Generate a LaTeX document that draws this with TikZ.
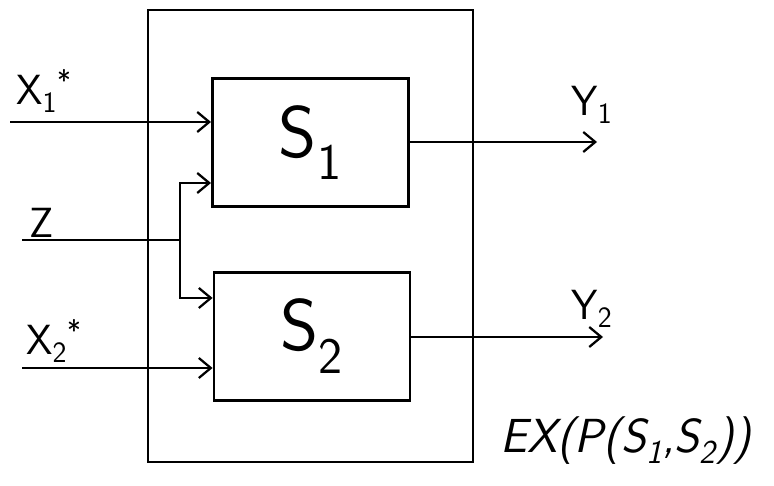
\documentclass[tikz,border=0pt]{standalone}
\usepackage{tikz}
\usetikzlibrary{positioning,arrows.meta}
\tikzset{
  outer/.style={draw, line width=1.4pt},
  sysbox/.style={draw, line width=2pt, minimum width=4.9cm, minimum height=3.2cm,
                 font=\sffamily\fontsize{52}{56}\selectfont},
  sig/.style={line width=1.8pt},
  flow/.style={sig, -{Straight Barb[length=3mm,width=5mm,line width=1.6pt]}},
  lbl/.style={font=\sffamily\fontsize{30}{32}\selectfont, inner sep=0pt},
}
\begin{document}
\begin{tikzpicture}
  \useasboundingbox (0,0) rectangle (19.35,12.125);
  % outer frame and the two systems
  \draw[outer] (3.7,0.575) rectangle (11.825,11.875);
  \node[sysbox] (s1) at (7.76,8.56) {S\textsubscript{1}};
  \node[sysbox] (s2) at (7.8,3.72) {S\textsubscript{2}};

  % input ends and the branch point of Z
  \coordinate (x1in) at (0.25,9.075);
  \coordinate (zin) at (0.55,6.125);
  \coordinate (zj) at (4.5,6.125);
  \coordinate (x2in) at (0.55,2.925);
  \coordinate (y1out) at (14.925,8.575);
  \coordinate (y2out) at (15.075,3.7);

  \draw[flow] (x1in) -- (x1in -| s1.west);
  \draw[sig] (zin) -- (zj);
  \draw[flow] (zj) |- (s1.west |- 0,7.55);
  \draw[flow] (zj) |- (s2.west |- 0,4.675);
  \draw[flow] (x2in) -- (x2in -| s2.west);
  \draw[flow] (s1.east |- y1out) -- (y1out);
  \draw[flow] (s2.east |- y2out) -- (y2out);

  % labels
  \node[lbl] (lx1) at (1.1,9.85) {X\textsubscript{1}\textsuperscript{*}};
  \node[lbl] (lz) at (1.05,6.55) {Z};
  \node[lbl] (lx2) at (1.35,3.6) {X\textsubscript{2}\textsuperscript{*}};
  \node[lbl] (ly1) at (14.8,9.5) {Y\textsubscript{1}};
  \node[lbl] (ly2) at (14.8,4.4) {Y\textsubscript{2}};
  \node[lbl, font=\sffamily\itshape\fontsize{34}{36}\selectfont] (lex) at (15.65,1.1)
    {EX(P(S\textsubscript{1},S\textsubscript{2}))};
\end{tikzpicture}
\end{document}
